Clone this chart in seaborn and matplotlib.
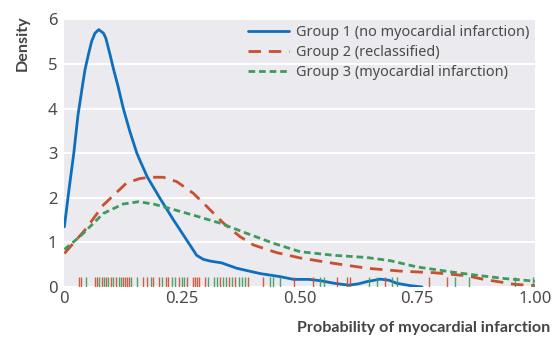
import numpy as np
import pandas as pd
import seaborn as sns
import matplotlib
matplotlib.use("Agg")
import matplotlib.pyplot as plt

# ---- data ----
g1_x = [0, 0.01, 0.02, 0.029, 0.04, 0.044, 0.051, 0.058, 0.065, 0.073, 0.083, 0.088,
        0.097, 0.104, 0.114, 0.125, 0.139, 0.154, 0.16, 0.176, 0.203, 0.232, 0.26, 0.281,
        0.295, 0.31, 0.334, 0.366, 0.416, 0.459, 0.487, 0.52, 0.544, 0.575, 0.604, 0.625,
        0.643, 0.671, 0.69, 0.707, 0.735, 0.76]
g1_y = [1.35, 2.2, 3.0, 3.86, 4.62, 4.88, 5.21, 5.51, 5.69, 5.77, 5.69, 5.58,
        5.21, 4.9, 4.50, 4.01, 3.49, 3.0, 2.85, 2.47, 1.99, 1.50, 1.05, 0.71,
        0.62, 0.58, 0.54, 0.42, 0.30, 0.23, 0.17, 0.17, 0.14, 0.08, 0.04, 0.07,
        0.12, 0.175, 0.15, 0.08, 0.03, 0.0]

g2_x = [0, 0.044, 0.083, 0.132, 0.16, 0.182, 0.21, 0.239, 0.274, 0.303, 0.338, 0.373,
        0.402, 0.451, 0.501, 0.572, 0.643, 0.714, 0.785, 0.856, 0.891, 0.927, 0.955, 1.0]
g2_y = [0.75, 1.28, 1.84, 2.33, 2.43, 2.46, 2.46, 2.36, 2.1, 1.8, 1.43, 1.13,
        0.94, 0.77, 0.65, 0.53, 0.42, 0.355, 0.32, 0.25, 0.17, 0.11, 0.06, 0.03]

g3_x = [0, 0.033, 0.083, 0.125, 0.157, 0.189, 0.224, 0.274, 0.331, 0.388, 0.444, 0.501,
        0.572, 0.643, 0.692, 0.749, 0.82, 0.863, 0.934, 1.0]
g3_y = [0.84, 1.13, 1.65, 1.86, 1.91, 1.86, 1.76, 1.61, 1.43, 1.2, 0.98, 0.79,
        0.71, 0.66, 0.59, 0.45, 0.34, 0.28, 0.19, 0.13]

rug_red = [0.031, 0.036, 0.064, 0.069, 0.079, 0.088, 0.098, 0.110, 0.125, 0.129, 0.132,
           0.137, 0.166, 0.176, 0.189, 0.202, 0.216, 0.221, 0.244, 0.260, 0.273, 0.278,
           0.281, 0.285, 0.299, 0.331, 0.349, 0.363, 0.390, 0.423, 0.487, 0.529, 0.579,
           0.600, 0.607, 0.682, 0.774, 0.813]
rug_green = [0.046, 0.073, 0.084, 0.093, 0.104, 0.115, 0.120, 0.141, 0.154, 0.185, 0.207,
             0.228, 0.235, 0.249, 0.254, 0.306, 0.318, 0.324, 0.338, 0.344, 0.356, 0.370,
             0.377, 0.384, 0.436, 0.444, 0.459, 0.543, 0.551, 0.647, 0.664, 0.696, 0.707,
             0.830, 0.859, 0.958, 0.995]

labels = ["Group 1 (no myocardial infarction)", "Group 2 (reclassified)",
          "Group 3 (myocardial infarction)"]
x_ticks = [0, 0.25, 0.5, 0.75, 1.0]
x_ticklabels = ["0", "0.25", "0.50", "0.75", "1.00"]
y_ticks = [0, 1, 2, 3, 4, 5, 6]

colors = ["#0d6fbd", "#c9502f", "#3f9a5d"]

sns.set_theme(style="darkgrid")
plt.rcParams["font.family"] = ["Noto Sans", "DejaVu Sans"]

fig = plt.figure(figsize=(5.55, 3.4), dpi=100)
ax = fig.add_axes([0.116, 0.156, 0.848, 0.791])
ax.set_facecolor("#eaeaef")

sns.lineplot(x=g1_x, y=g1_y, ax=ax, color=colors[0], lw=2.0, label=labels[0],
             sort=False, estimator=None)
sns.lineplot(x=g2_x, y=g2_y, ax=ax, color=colors[1], lw=2.0, label=labels[1],
             sort=False, estimator=None)
sns.lineplot(x=g3_x, y=g3_y, ax=ax, color=colors[2], lw=2.0, label=labels[2],
             sort=False, estimator=None)
lines = ax.get_lines()
lines[0].set_solid_joinstyle("round")
lines[1].set_dashes([4.5, 2.8])
lines[2].set_dashes([2.4, 1.4])

sns.rugplot(x=rug_red, ax=ax, color=colors[1], height=0.036, alpha=0.9, lw=1.4)
sns.rugplot(x=rug_green, ax=ax, color=colors[2], height=0.036, alpha=0.9, lw=1.4)

ax.set_xlim(0, 1)
ax.set_ylim(0, 6.03)
ax.set_xticks(x_ticks)
ax.set_xticklabels(x_ticklabels)
ax.set_yticks(y_ticks)
ax.grid(axis="x", visible=False)
ax.grid(axis="y", color="white", lw=1.5)
for s in ax.spines.values():
    s.set_visible(False)
ax.tick_params(axis="both", length=0, labelsize=12, labelcolor="#4a4a4a")
ax.tick_params(axis="y", pad=5)
ax.tick_params(axis="x", pad=3)

lab_font = dict(family=["Lato", "DejaVu Sans"], fontsize=11.6, fontweight="bold",
                color="#444444")
ax.set_xlabel("Probability of myocardial infarction", loc="right", **lab_font)
ax.xaxis.set_label_coords(1.032, -0.125)
ax.set_ylabel("Density", loc="top", **lab_font)
ax.yaxis.set_label_coords(-0.074, 1.011)

leg = ax.legend(loc="upper right", bbox_to_anchor=(0.987, 0.975), frameon=False,
                fontsize=10.4, handlelength=2.85, handletextpad=0.42, labelspacing=0.36,
                borderpad=0, borderaxespad=0)
for t in leg.get_texts():
    t.set_color("#4a4a4a")

fig.savefig("out.png", dpi=100)
